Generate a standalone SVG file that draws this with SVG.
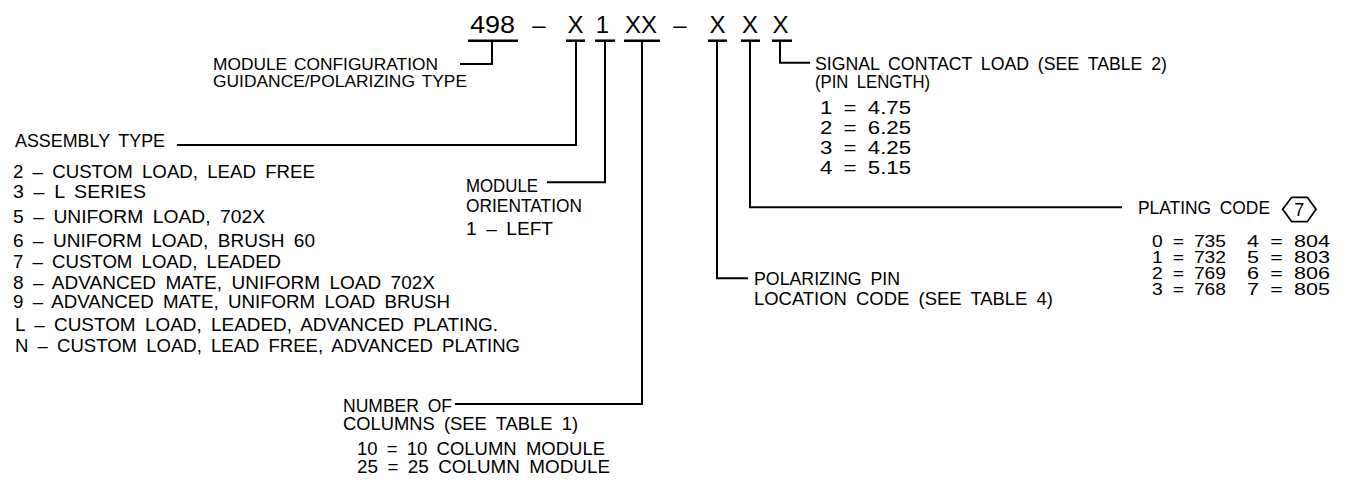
<svg xmlns="http://www.w3.org/2000/svg" width="1351" height="485" viewBox="0 0 1351 485">
<style>
text{font-family:"Liberation Sans",Arial,sans-serif;fill:#000;}
.pn{font-size:24px;text-anchor:middle;}
.t{font-size:18px;word-spacing:4px;}
.l{font-size:18.5px;word-spacing:4px;}
.m{font-size:16.3px;word-spacing:2px;}
.n{font-size:17.5px;word-spacing:4px;}
.s{font-size:16.5px;word-spacing:4px;}
.ln{fill:none;stroke:#000;stroke-width:2;}
.ul{stroke:#000;stroke-width:2.5;}
</style>
<rect width="1351" height="485" fill="#fff"/>
<g id="part-number">
<text class="pn" x="492.5" y="33" textLength="45" lengthAdjust="spacingAndGlyphs">498</text>
<text class="pn" x="539" y="33">–</text>
<text class="pn" x="575.5" y="33">X</text>
<text class="pn" x="602.5" y="33">1</text>
<text class="pn" x="641" y="33" textLength="32" lengthAdjust="spacingAndGlyphs">XX</text>
<text class="pn" x="680" y="33">–</text>
<text class="pn" x="717.5" y="33">X</text>
<text class="pn" x="750" y="33">X</text>
<text class="pn" x="780.5" y="33">X</text>
<g class="ul">
<line x1="468" y1="40.7" x2="518" y2="40.7"/>
<line x1="566" y1="40.7" x2="585" y2="40.7"/>
<line x1="595" y1="40.7" x2="615" y2="40.7"/>
<line x1="624" y1="40.7" x2="660" y2="40.7"/>
<line x1="708" y1="40.7" x2="727" y2="40.7"/>
<line x1="741" y1="40.7" x2="760" y2="40.7"/>
<line x1="772" y1="40.7" x2="792" y2="40.7"/>
</g>
</g>
<g id="connectors" class="ln">
<path d="M492,40.7 V64 H460"/>
<path d="M576,40.7 V145 H177"/>
<path d="M605,40.7 V182.3 H547"/>
<path d="M642,40.7 V404 H455"/>
<path d="M717,40.7 V278.3 H748"/>
<path d="M750,40.7 V207.3 H1122"/>
<path d="M780,40.7 V62.7 H810"/>
</g>
<g id="module-configuration">
<text class="m" x="213" y="70.2" textLength="225" lengthAdjust="spacingAndGlyphs">MODULE CONFIGURATION</text>
<text class="m" x="213" y="86.8" textLength="254" lengthAdjust="spacingAndGlyphs">GUIDANCE/POLARIZING TYPE</text>
</g>
<g id="assembly-type">
<text class="l" x="15" y="147" textLength="150" lengthAdjust="spacingAndGlyphs">ASSEMBLY TYPE</text>
<text class="l" x="13" y="178" textLength="302" lengthAdjust="spacingAndGlyphs">2 – CUSTOM LOAD, LEAD FREE</text>
<text class="l" x="13" y="198" textLength="133" lengthAdjust="spacingAndGlyphs">3 – L SERIES</text>
<text class="l" x="13" y="223" textLength="252" lengthAdjust="spacingAndGlyphs">5 – UNIFORM LOAD, 702X</text>
<text class="l" x="13" y="246.5" textLength="302" lengthAdjust="spacingAndGlyphs">6 – UNIFORM LOAD, BRUSH 60</text>
<text class="l" x="13" y="268" textLength="268" lengthAdjust="spacingAndGlyphs">7 – CUSTOM LOAD, LEADED</text>
<text class="l" x="13" y="289" textLength="422" lengthAdjust="spacingAndGlyphs">8 – ADVANCED MATE, UNIFORM LOAD 702X</text>
<text class="l" x="13" y="308" textLength="437" lengthAdjust="spacingAndGlyphs">9 – ADVANCED MATE, UNIFORM LOAD BRUSH</text>
<text class="l" x="15" y="330.5" textLength="483" lengthAdjust="spacingAndGlyphs">L – CUSTOM LOAD, LEADED, ADVANCED PLATING.</text>
<text class="l" x="15" y="351.5" textLength="505" lengthAdjust="spacingAndGlyphs">N – CUSTOM LOAD, LEAD FREE, ADVANCED PLATING</text>
</g>
<g id="module-orientation">
<text class="t" x="466" y="191.5" textLength="72" lengthAdjust="spacingAndGlyphs">MODULE</text>
<text class="t" x="466" y="211.5" textLength="116" lengthAdjust="spacingAndGlyphs">ORIENTATION</text>
<text class="t" x="466" y="235" textLength="87" lengthAdjust="spacingAndGlyphs">1 – LEFT</text>
</g>
<g id="number-of-columns">
<text class="t" x="343" y="412" textLength="109" lengthAdjust="spacingAndGlyphs">NUMBER OF</text>
<text class="t" x="343" y="430" textLength="235" lengthAdjust="spacingAndGlyphs">COLUMNS (SEE TABLE 1)</text>
<text class="t" x="357" y="455" textLength="248" lengthAdjust="spacingAndGlyphs">10 = 10 COLUMN MODULE</text>
<text class="t" x="357" y="473" textLength="253" lengthAdjust="spacingAndGlyphs">25 = 25 COLUMN MODULE</text>
</g>
<g id="polarizing-pin">
<text class="t" x="754" y="285" textLength="146" lengthAdjust="spacingAndGlyphs">POLARIZING PIN</text>
<text class="t" x="754" y="305" textLength="299" lengthAdjust="spacingAndGlyphs">LOCATION CODE (SEE TABLE 4)</text>
</g>
<g id="signal-contact-load">
<text class="t" x="815" y="70" textLength="352" lengthAdjust="spacingAndGlyphs">SIGNAL CONTACT LOAD (SEE TABLE 2)</text>
<text class="t" x="815" y="88" textLength="115" lengthAdjust="spacingAndGlyphs">(PIN LENGTH)</text>
<text class="n" x="820" y="113.5" textLength="91" lengthAdjust="spacingAndGlyphs">1 = 4.75</text>
<text class="n" x="820" y="133.5" textLength="91" lengthAdjust="spacingAndGlyphs">2 = 6.25</text>
<text class="n" x="820" y="153.5" textLength="91" lengthAdjust="spacingAndGlyphs">3 = 4.25</text>
<text class="n" x="820" y="174" textLength="91" lengthAdjust="spacingAndGlyphs">4 = 5.15</text>
</g>
<g id="plating-code">
<text class="t" x="1138" y="214" textLength="132" lengthAdjust="spacingAndGlyphs">PLATING CODE</text>
<polygon points="1282.7,209.3 1291.7,197.3 1307.3,197.3 1316,209.3 1307.3,221.7 1291.7,221.7" fill="none" stroke="#000" stroke-width="1.8"/>
<text class="t" x="1299.3" y="215.8" text-anchor="middle">7</text>
<text class="s" x="1152" y="246.5" textLength="74" lengthAdjust="spacingAndGlyphs">0 = 735</text>
<text class="s" x="1152" y="262.5" textLength="74" lengthAdjust="spacingAndGlyphs">1 = 732</text>
<text class="s" x="1152" y="278.5" textLength="74" lengthAdjust="spacingAndGlyphs">2 = 769</text>
<text class="s" x="1152" y="294.5" textLength="74" lengthAdjust="spacingAndGlyphs">3 = 768</text>
<text class="s" x="1247" y="246.5" textLength="83" lengthAdjust="spacingAndGlyphs">4 = 804</text>
<text class="s" x="1247" y="262.5" textLength="83" lengthAdjust="spacingAndGlyphs">5 = 803</text>
<text class="s" x="1247" y="278.5" textLength="83" lengthAdjust="spacingAndGlyphs">6 = 806</text>
<text class="s" x="1247" y="294.5" textLength="83" lengthAdjust="spacingAndGlyphs">7 = 805</text>
</g>
</svg>
